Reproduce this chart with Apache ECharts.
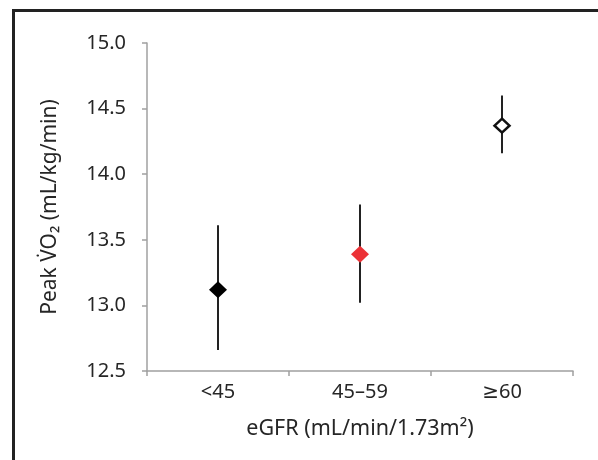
<!DOCTYPE html>
<html>
<head>
<meta charset="utf-8">
<script src="https://cdn.jsdelivr.net/npm/echarts@6/dist/echarts.min.js"></script>
<style>
html,body{margin:0;padding:0;background:#fff;}
#chart{width:598px;height:460px;}
</style>
</head>
<body>
<div id="chart"></div>
<script>
// Data
var categories = ['<45', '45\u201359', '\u226560'];
var means = [13.12, 13.39, 14.37];
var lower = [12.66, 13.02, 14.16];
var upper = [13.61, 13.77, 14.60];
var yTicks = [12.5, 13.0, 13.5, 14.0, 14.5, 15.0];

var FONT = '"Noto Sans", "DejaVu Sans", sans-serif';
var TXT = '#262626';

var chart = echarts.init(document.getElementById('chart'), null, {renderer: 'canvas'});

var pointStyles = [
  {color: '#000000', borderColor: '#000000', borderWidth: 0, opacity: 1},
  {color: '#ec3237', borderColor: '#ec3237', borderWidth: 0, opacity: 1},
  {color: '#ffffff', borderColor: '#111111', borderWidth: 2.5, opacity: 1}
];

var option = {
  backgroundColor: '#ffffff',
  animation: false,
  graphic: [{
    type: 'rect',
    shape: {x: 13.5, y: 10.5, width: 600, height: 470},
    style: {fill: 'none', stroke: '#222222', lineWidth: 3},
    silent: true,
    z: 0
  }],
  grid: {left: 147, right: 25, top: 43, bottom: 89, containLabel: false},
  xAxis: {
    type: 'category',
    data: categories,
    boundaryGap: true,
    axisLine: {show: true, lineStyle: {color: '#a0a0a0', width: 1.5}},
    axisTick: {show: true, length: 5, inside: false, lineStyle: {color: '#a0a0a0', width: 1.5}},
    axisLabel: {color: TXT, fontFamily: FONT, fontSize: 20, margin: 11},
    name: 'eGFR (mL/min/1.73m\u00B2)',
    nameLocation: 'middle',
    nameGap: 47,
    nameTextStyle: {color: TXT, fontFamily: FONT, fontSize: 21.5},
    splitLine: {show: false}
  },
  yAxis: {
    type: 'value',
    min: yTicks[0],
    max: yTicks[yTicks.length - 1],
    interval: 0.5,
    axisLine: {show: true, lineStyle: {color: '#a0a0a0', width: 1.5}},
    axisTick: {show: true, length: 5, inside: false, lineStyle: {color: '#a0a0a0', width: 1.5}},
    axisLabel: {color: TXT, fontFamily: FONT, fontSize: 20, margin: 21,
      formatter: function (v) { return v.toFixed(1); }},
    splitLine: {show: false},
    name: 'Peak V\u0307O\u2082 (mL/kg/min)',
    nameLocation: 'middle',
    nameGap: 86,
    nameTextStyle: {color: TXT, fontFamily: FONT, fontSize: 21}
  },
  series: [
    {
      type: 'custom',
      name: 'CI',
      data: categories.map(function (c, i) { return [i, lower[i], upper[i]]; }),
      encode: {x: 0, y: [1, 2]},
      renderItem: function (params, api) {
        var lo = api.coord([api.value(0), api.value(1)]);
        var hi = api.coord([api.value(0), api.value(2)]);
        return {
          type: 'line',
          shape: {x1: lo[0], y1: lo[1], x2: hi[0], y2: hi[1]},
          style: {stroke: '#222222', lineWidth: 2}
        };
      },
      z: 2
    },
    {
      type: 'scatter',
      name: 'Mean',
      symbol: 'diamond',
      data: categories.map(function (c, i) {
        return {value: [i, means[i]], itemStyle: pointStyles[i],
          symbolSize: i === 2 ? [15, 14] : [18, 17]};
      }),
      z: 3
    }
  ]
};
chart.setOption(option);
</script>
</body>
</html>
